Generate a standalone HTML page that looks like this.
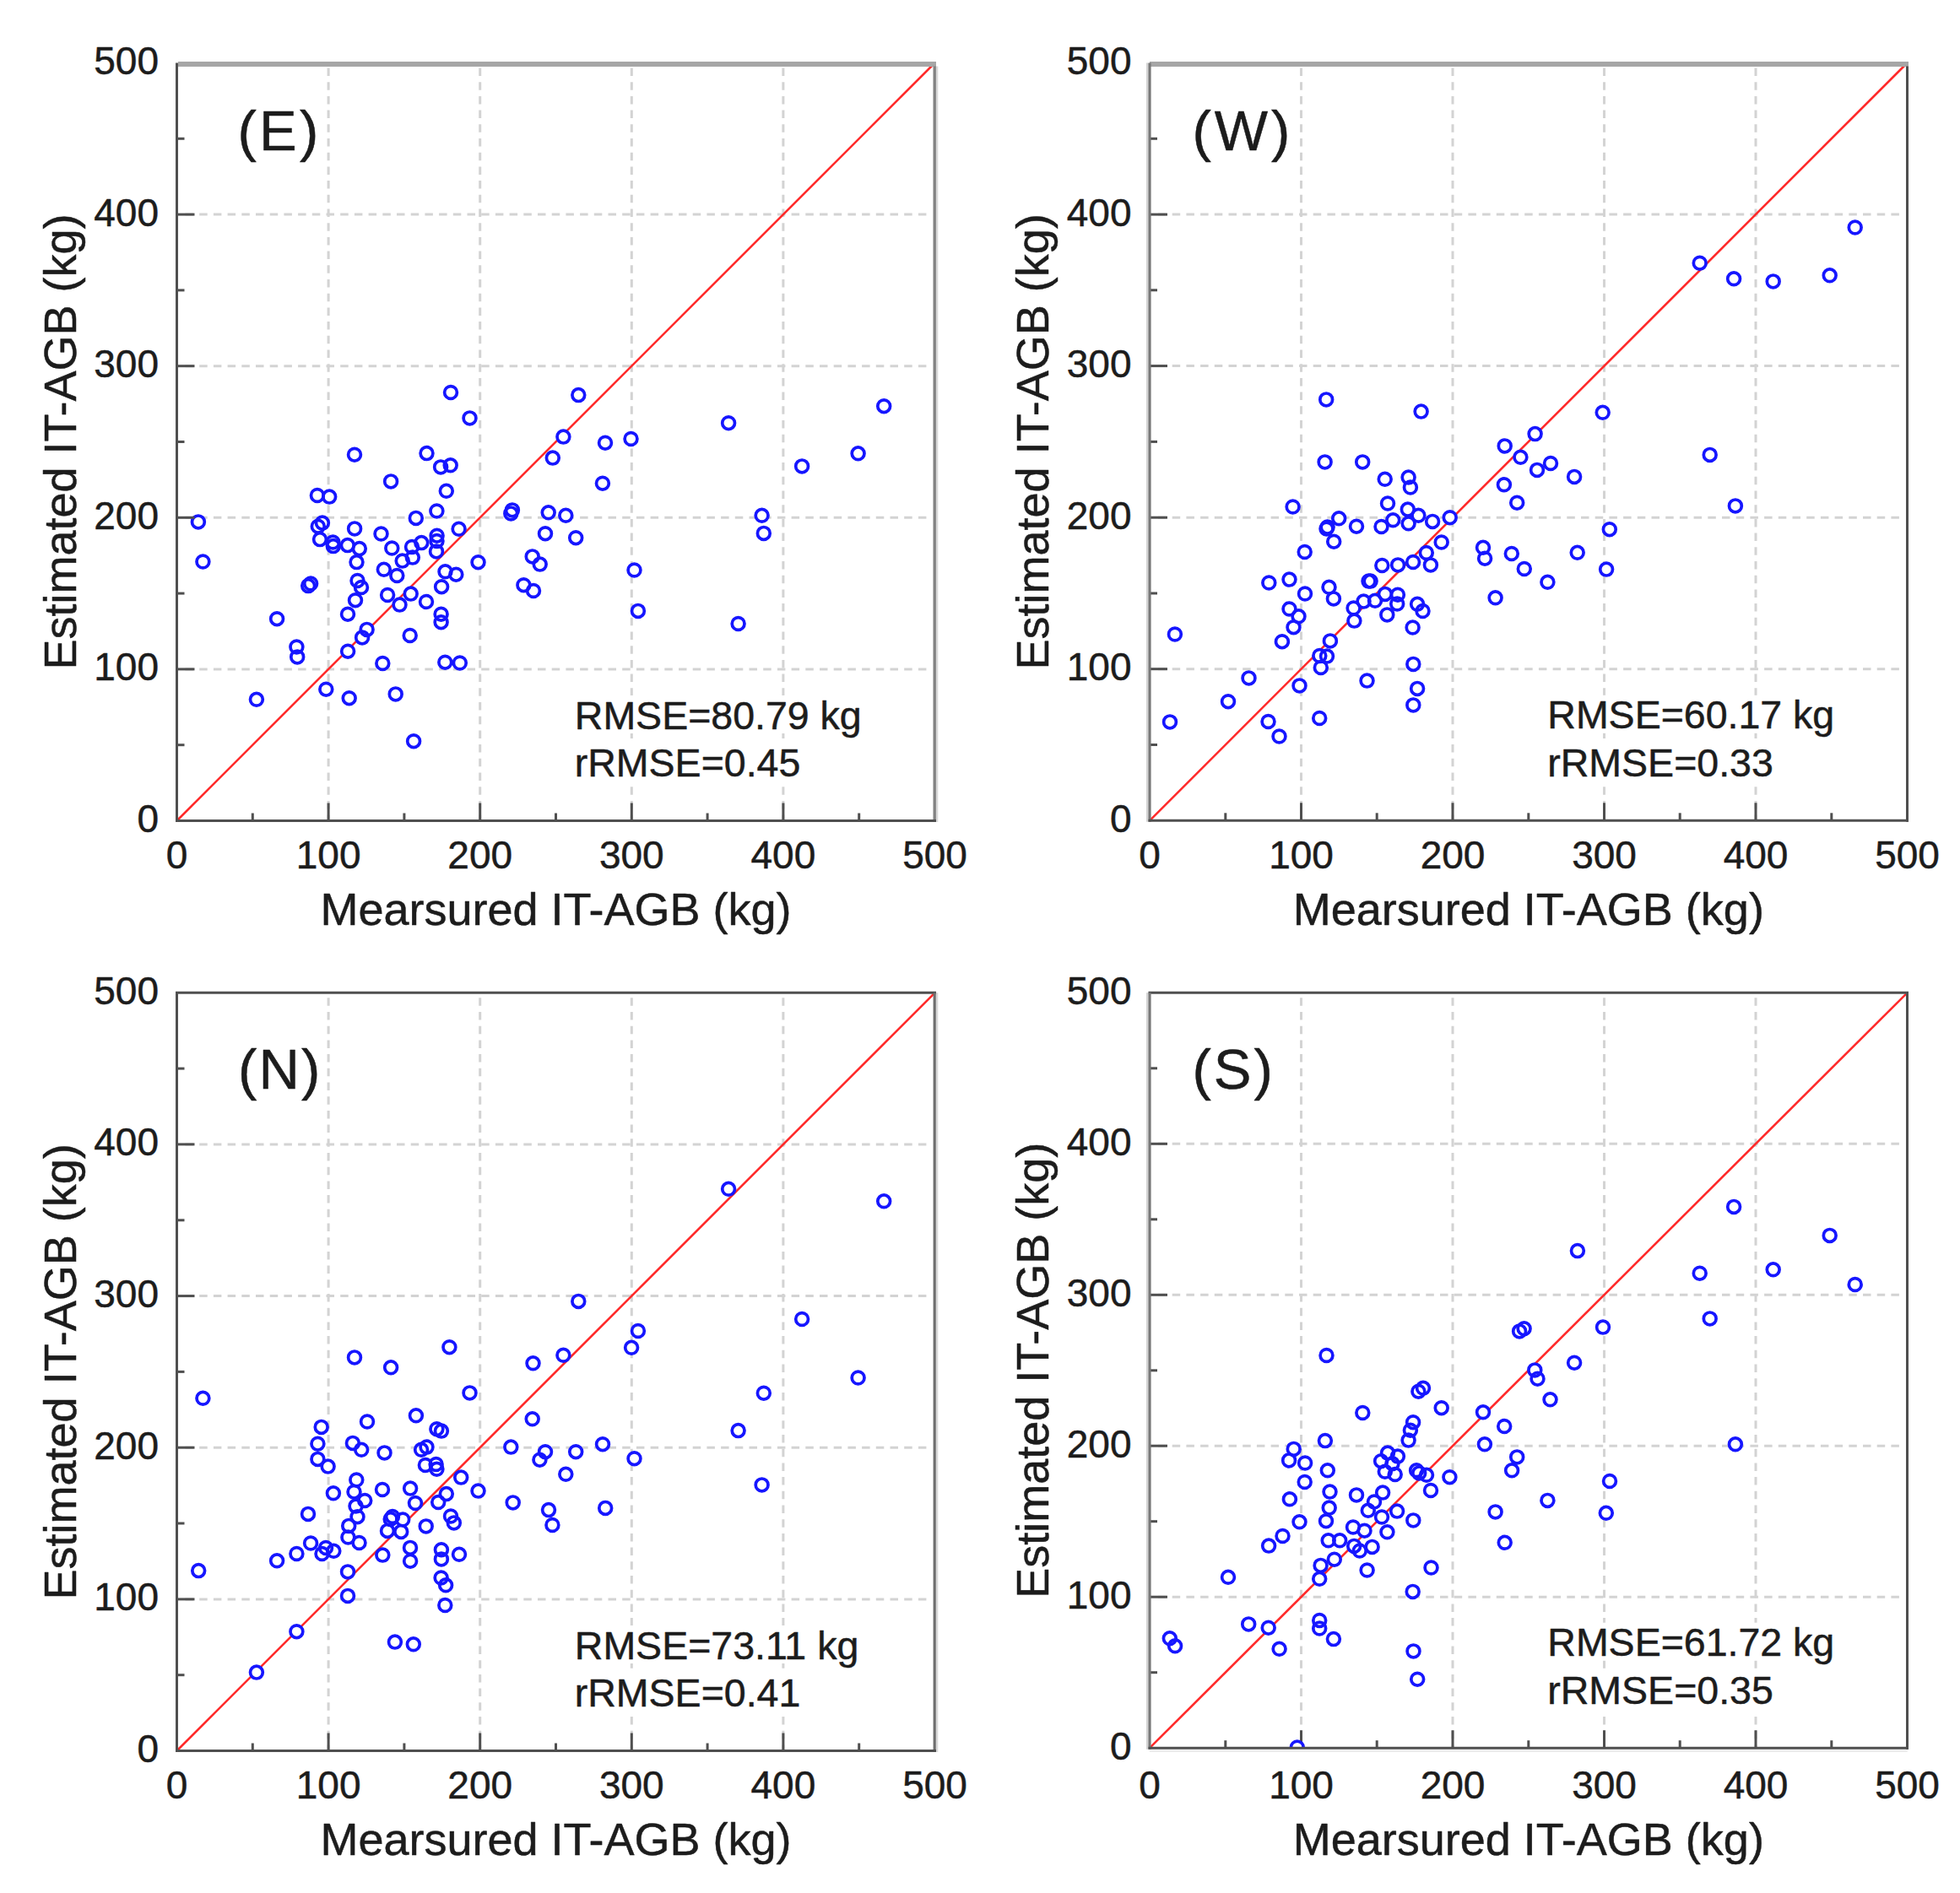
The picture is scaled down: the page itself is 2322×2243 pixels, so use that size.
<!DOCTYPE html><html><head><meta charset="utf-8"><title>IT-AGB scatter</title><style>html,body{margin:0;padding:0;background:#fff}svg{display:block}text{font-family:"Liberation Sans",Arial,sans-serif;fill:#1c1c1c;stroke:#1c1c1c;stroke-width:.5px;stroke-linejoin:round}</style></head><body>
<svg width="2322" height="2243" viewBox="0 0 2322 2243">
<rect width="2322" height="2243" fill="#fff"/>
<g><line x1="389.1" y1="80.5" x2="389.1" y2="972.5" stroke="#d3d3d3" stroke-width="3" stroke-dasharray="9.5 7.2"/><line x1="219.5" y1="792.9" x2="1101.5" y2="792.9" stroke="#d3d3d3" stroke-width="3" stroke-dasharray="9.5 7.2"/><line x1="568.7" y1="80.5" x2="568.7" y2="972.5" stroke="#d3d3d3" stroke-width="3" stroke-dasharray="9.5 7.2"/><line x1="219.5" y1="613.3" x2="1101.5" y2="613.3" stroke="#d3d3d3" stroke-width="3" stroke-dasharray="9.5 7.2"/><line x1="748.3" y1="80.5" x2="748.3" y2="972.5" stroke="#d3d3d3" stroke-width="3" stroke-dasharray="9.5 7.2"/><line x1="219.5" y1="433.7" x2="1101.5" y2="433.7" stroke="#d3d3d3" stroke-width="3" stroke-dasharray="9.5 7.2"/><line x1="927.9" y1="80.5" x2="927.9" y2="972.5" stroke="#d3d3d3" stroke-width="3" stroke-dasharray="9.5 7.2"/><line x1="219.5" y1="254.1" x2="1101.5" y2="254.1" stroke="#d3d3d3" stroke-width="3" stroke-dasharray="9.5 7.2"/><line x1="209.5" y1="972.5" x2="1107.5" y2="74.5" stroke="#ff2a2a" stroke-width="2.6"/><g fill="#fff" stroke="none"><circle cx="234.9" cy="618.4" r="7.4"/><circle cx="240.4" cy="665.5" r="7.4"/><circle cx="420.0" cy="538.7" r="7.4"/><circle cx="463.1" cy="570.4" r="7.4"/><circle cx="375.9" cy="587.0" r="7.4"/><circle cx="390.2" cy="588.6" r="7.4"/><circle cx="492.8" cy="613.9" r="7.4"/><circle cx="376.8" cy="623.7" r="7.4"/><circle cx="381.9" cy="619.6" r="7.4"/><circle cx="420.1" cy="626.4" r="7.4"/><circle cx="451.5" cy="632.5" r="7.4"/><circle cx="379.0" cy="639.1" r="7.4"/><circle cx="394.4" cy="642.5" r="7.4"/><circle cx="394.8" cy="647.1" r="7.4"/><circle cx="411.8" cy="646.1" r="7.4"/><circle cx="425.8" cy="650.1" r="7.4"/><circle cx="464.3" cy="649.5" r="7.4"/><circle cx="422.5" cy="666.1" r="7.4"/><circle cx="476.7" cy="664.6" r="7.4"/><circle cx="454.8" cy="674.8" r="7.4"/><circle cx="470.3" cy="682.0" r="7.4"/><circle cx="365.2" cy="694.1" r="7.4"/><circle cx="368.1" cy="691.5" r="7.4"/><circle cx="423.5" cy="688.0" r="7.4"/><circle cx="428.0" cy="696.0" r="7.4"/><circle cx="421.0" cy="711.2" r="7.4"/><circle cx="412.0" cy="727.7" r="7.4"/><circle cx="328.1" cy="733.2" r="7.4"/><circle cx="351.4" cy="766.5" r="7.4"/><circle cx="352.2" cy="778.4" r="7.4"/><circle cx="303.9" cy="828.8" r="7.4"/><circle cx="386.3" cy="816.7" r="7.4"/><circle cx="413.7" cy="827.2" r="7.4"/><circle cx="468.7" cy="822.4" r="7.4"/><circle cx="490.1" cy="878.2" r="7.4"/><circle cx="453.3" cy="786.0" r="7.4"/><circle cx="527.3" cy="784.7" r="7.4"/><circle cx="544.8" cy="785.5" r="7.4"/><circle cx="485.7" cy="753.0" r="7.4"/><circle cx="412.1" cy="771.7" r="7.4"/><circle cx="429.1" cy="755.4" r="7.4"/><circle cx="434.6" cy="745.9" r="7.4"/><circle cx="459.1" cy="705.0" r="7.4"/><circle cx="473.5" cy="716.6" r="7.4"/><circle cx="486.7" cy="703.6" r="7.4"/><circle cx="505.0" cy="713.0" r="7.4"/><circle cx="522.6" cy="727.7" r="7.4"/><circle cx="522.6" cy="737.2" r="7.4"/><circle cx="523.1" cy="695.2" r="7.4"/><circle cx="527.5" cy="677.3" r="7.4"/><circle cx="540.3" cy="680.7" r="7.4"/><circle cx="517.4" cy="605.5" r="7.4"/><circle cx="543.6" cy="626.8" r="7.4"/><circle cx="517.6" cy="634.7" r="7.4"/><circle cx="517.0" cy="653.4" r="7.4"/><circle cx="499.3" cy="643.1" r="7.4"/><circle cx="488.0" cy="648.0" r="7.4"/><circle cx="488.8" cy="660.6" r="7.4"/><circle cx="517.5" cy="641.0" r="7.4"/><circle cx="534.0" cy="465.0" r="7.4"/><circle cx="556.5" cy="495.4" r="7.4"/><circle cx="685.3" cy="468.1" r="7.4"/><circle cx="667.4" cy="517.6" r="7.4"/><circle cx="654.8" cy="542.6" r="7.4"/><circle cx="717.0" cy="524.7" r="7.4"/><circle cx="747.5" cy="520.0" r="7.4"/><circle cx="505.5" cy="537.1" r="7.4"/><circle cx="522.1" cy="553.4" r="7.4"/><circle cx="533.7" cy="551.3" r="7.4"/><circle cx="528.8" cy="581.8" r="7.4"/><circle cx="713.9" cy="572.7" r="7.4"/><circle cx="606.9" cy="604.4" r="7.4"/><circle cx="605.3" cy="608.4" r="7.4"/><circle cx="649.7" cy="607.3" r="7.4"/><circle cx="670.3" cy="610.8" r="7.4"/><circle cx="646.0" cy="632.2" r="7.4"/><circle cx="682.2" cy="637.2" r="7.4"/><circle cx="566.5" cy="666.2" r="7.4"/><circle cx="630.7" cy="659.4" r="7.4"/><circle cx="639.7" cy="668.6" r="7.4"/><circle cx="620.4" cy="693.2" r="7.4"/><circle cx="632.0" cy="700.0" r="7.4"/><circle cx="751.5" cy="675.5" r="7.4"/><circle cx="863.1" cy="501.2" r="7.4"/><circle cx="1047.2" cy="481.2" r="7.4"/><circle cx="1016.6" cy="537.3" r="7.4"/><circle cx="950.1" cy="552.4" r="7.4"/><circle cx="902.6" cy="610.8" r="7.4"/><circle cx="904.8" cy="631.9" r="7.4"/><circle cx="755.9" cy="723.9" r="7.4"/><circle cx="874.6" cy="739.0" r="7.4"/></g><g fill="none" stroke="#1616ff" stroke-width="3.7"><circle cx="234.9" cy="618.4" r="7.4"/><circle cx="240.4" cy="665.5" r="7.4"/><circle cx="420.0" cy="538.7" r="7.4"/><circle cx="463.1" cy="570.4" r="7.4"/><circle cx="375.9" cy="587.0" r="7.4"/><circle cx="390.2" cy="588.6" r="7.4"/><circle cx="492.8" cy="613.9" r="7.4"/><circle cx="376.8" cy="623.7" r="7.4"/><circle cx="381.9" cy="619.6" r="7.4"/><circle cx="420.1" cy="626.4" r="7.4"/><circle cx="451.5" cy="632.5" r="7.4"/><circle cx="379.0" cy="639.1" r="7.4"/><circle cx="394.4" cy="642.5" r="7.4"/><circle cx="394.8" cy="647.1" r="7.4"/><circle cx="411.8" cy="646.1" r="7.4"/><circle cx="425.8" cy="650.1" r="7.4"/><circle cx="464.3" cy="649.5" r="7.4"/><circle cx="422.5" cy="666.1" r="7.4"/><circle cx="476.7" cy="664.6" r="7.4"/><circle cx="454.8" cy="674.8" r="7.4"/><circle cx="470.3" cy="682.0" r="7.4"/><circle cx="365.2" cy="694.1" r="7.4"/><circle cx="368.1" cy="691.5" r="7.4"/><circle cx="423.5" cy="688.0" r="7.4"/><circle cx="428.0" cy="696.0" r="7.4"/><circle cx="421.0" cy="711.2" r="7.4"/><circle cx="412.0" cy="727.7" r="7.4"/><circle cx="328.1" cy="733.2" r="7.4"/><circle cx="351.4" cy="766.5" r="7.4"/><circle cx="352.2" cy="778.4" r="7.4"/><circle cx="303.9" cy="828.8" r="7.4"/><circle cx="386.3" cy="816.7" r="7.4"/><circle cx="413.7" cy="827.2" r="7.4"/><circle cx="468.7" cy="822.4" r="7.4"/><circle cx="490.1" cy="878.2" r="7.4"/><circle cx="453.3" cy="786.0" r="7.4"/><circle cx="527.3" cy="784.7" r="7.4"/><circle cx="544.8" cy="785.5" r="7.4"/><circle cx="485.7" cy="753.0" r="7.4"/><circle cx="412.1" cy="771.7" r="7.4"/><circle cx="429.1" cy="755.4" r="7.4"/><circle cx="434.6" cy="745.9" r="7.4"/><circle cx="459.1" cy="705.0" r="7.4"/><circle cx="473.5" cy="716.6" r="7.4"/><circle cx="486.7" cy="703.6" r="7.4"/><circle cx="505.0" cy="713.0" r="7.4"/><circle cx="522.6" cy="727.7" r="7.4"/><circle cx="522.6" cy="737.2" r="7.4"/><circle cx="523.1" cy="695.2" r="7.4"/><circle cx="527.5" cy="677.3" r="7.4"/><circle cx="540.3" cy="680.7" r="7.4"/><circle cx="517.4" cy="605.5" r="7.4"/><circle cx="543.6" cy="626.8" r="7.4"/><circle cx="517.6" cy="634.7" r="7.4"/><circle cx="517.0" cy="653.4" r="7.4"/><circle cx="499.3" cy="643.1" r="7.4"/><circle cx="488.0" cy="648.0" r="7.4"/><circle cx="488.8" cy="660.6" r="7.4"/><circle cx="517.5" cy="641.0" r="7.4"/><circle cx="534.0" cy="465.0" r="7.4"/><circle cx="556.5" cy="495.4" r="7.4"/><circle cx="685.3" cy="468.1" r="7.4"/><circle cx="667.4" cy="517.6" r="7.4"/><circle cx="654.8" cy="542.6" r="7.4"/><circle cx="717.0" cy="524.7" r="7.4"/><circle cx="747.5" cy="520.0" r="7.4"/><circle cx="505.5" cy="537.1" r="7.4"/><circle cx="522.1" cy="553.4" r="7.4"/><circle cx="533.7" cy="551.3" r="7.4"/><circle cx="528.8" cy="581.8" r="7.4"/><circle cx="713.9" cy="572.7" r="7.4"/><circle cx="606.9" cy="604.4" r="7.4"/><circle cx="605.3" cy="608.4" r="7.4"/><circle cx="649.7" cy="607.3" r="7.4"/><circle cx="670.3" cy="610.8" r="7.4"/><circle cx="646.0" cy="632.2" r="7.4"/><circle cx="682.2" cy="637.2" r="7.4"/><circle cx="566.5" cy="666.2" r="7.4"/><circle cx="630.7" cy="659.4" r="7.4"/><circle cx="639.7" cy="668.6" r="7.4"/><circle cx="620.4" cy="693.2" r="7.4"/><circle cx="632.0" cy="700.0" r="7.4"/><circle cx="751.5" cy="675.5" r="7.4"/><circle cx="863.1" cy="501.2" r="7.4"/><circle cx="1047.2" cy="481.2" r="7.4"/><circle cx="1016.6" cy="537.3" r="7.4"/><circle cx="950.1" cy="552.4" r="7.4"/><circle cx="902.6" cy="610.8" r="7.4"/><circle cx="904.8" cy="631.9" r="7.4"/><circle cx="755.9" cy="723.9" r="7.4"/><circle cx="874.6" cy="739.0" r="7.4"/></g><line x1="299.3" y1="972.5" x2="299.3" y2="963.5" stroke="#4f4f4f" stroke-width="3"/><line x1="209.5" y1="882.7" x2="218.5" y2="882.7" stroke="#4f4f4f" stroke-width="3"/><line x1="389.1" y1="972.5" x2="389.1" y2="951.5" stroke="#4f4f4f" stroke-width="3"/><line x1="209.5" y1="792.9" x2="230.5" y2="792.9" stroke="#4f4f4f" stroke-width="3"/><line x1="478.9" y1="972.5" x2="478.9" y2="963.5" stroke="#4f4f4f" stroke-width="3"/><line x1="209.5" y1="703.1" x2="218.5" y2="703.1" stroke="#4f4f4f" stroke-width="3"/><line x1="568.7" y1="972.5" x2="568.7" y2="951.5" stroke="#4f4f4f" stroke-width="3"/><line x1="209.5" y1="613.3" x2="230.5" y2="613.3" stroke="#4f4f4f" stroke-width="3"/><line x1="658.5" y1="972.5" x2="658.5" y2="963.5" stroke="#4f4f4f" stroke-width="3"/><line x1="209.5" y1="523.5" x2="218.5" y2="523.5" stroke="#4f4f4f" stroke-width="3"/><line x1="748.3" y1="972.5" x2="748.3" y2="951.5" stroke="#4f4f4f" stroke-width="3"/><line x1="209.5" y1="433.7" x2="230.5" y2="433.7" stroke="#4f4f4f" stroke-width="3"/><line x1="838.1" y1="972.5" x2="838.1" y2="963.5" stroke="#4f4f4f" stroke-width="3"/><line x1="209.5" y1="343.9" x2="218.5" y2="343.9" stroke="#4f4f4f" stroke-width="3"/><line x1="927.9" y1="972.5" x2="927.9" y2="951.5" stroke="#4f4f4f" stroke-width="3"/><line x1="209.5" y1="254.1" x2="230.5" y2="254.1" stroke="#4f4f4f" stroke-width="3"/><line x1="1017.7" y1="972.5" x2="1017.7" y2="963.5" stroke="#4f4f4f" stroke-width="3"/><line x1="209.5" y1="164.3" x2="218.5" y2="164.3" stroke="#4f4f4f" stroke-width="3"/><line x1="211.0" y1="76.0" x2="1109.0" y2="76.0" stroke="#a6a6a6" stroke-width="6"/><line x1="1110.1" y1="78.5" x2="1110.1" y2="974.0" stroke="#d8d8d8" stroke-width="2.4"/><line x1="1107.2" y1="78.5" x2="1107.2" y2="974.0" stroke="#828282" stroke-width="3.4"/><line x1="209.5" y1="74.5" x2="209.5" y2="974.0" stroke="#4f4f4f" stroke-width="3"/><line x1="208.0" y1="972.5" x2="1109.0" y2="972.5" stroke="#4f4f4f" stroke-width="3"/><text x="209.5" y="1028.8" font-size="46" text-anchor="middle">0</text><text x="188.0" y="986.0" font-size="46" text-anchor="end">0</text><text x="389.1" y="1028.8" font-size="46" text-anchor="middle">100</text><text x="188.0" y="806.4" font-size="46" text-anchor="end">100</text><text x="568.7" y="1028.8" font-size="46" text-anchor="middle">200</text><text x="188.0" y="626.8" font-size="46" text-anchor="end">200</text><text x="748.3" y="1028.8" font-size="46" text-anchor="middle">300</text><text x="188.0" y="447.2" font-size="46" text-anchor="end">300</text><text x="927.9" y="1028.8" font-size="46" text-anchor="middle">400</text><text x="188.0" y="267.6" font-size="46" text-anchor="end">400</text><text x="1107.5" y="1028.8" font-size="46" text-anchor="middle">500</text><text x="188.0" y="88.0" font-size="46" text-anchor="end">500</text><text x="658.5" y="1095.8" font-size="54" text-anchor="middle">Mearsured IT-AGB (kg)</text><text transform="translate(89.5 523.5) rotate(-90)" font-size="54" text-anchor="middle">Estimated IT-AGB (kg)</text><text x="281.5" y="178.0" font-size="67" letter-spacing="3.2" fill="#000">(E)</text><rect x="681.5" y="824.0" width="336" height="45" fill="#fff"/><rect x="681.5" y="879.0" width="266" height="51" fill="#fff"/><text x="680.8" y="863.5" font-size="46.5">RMSE=80.79 kg</text><text x="680.8" y="920.2" font-size="46.5">rRMSE=0.45</text></g>
<g><line x1="1541.5" y1="80.5" x2="1541.5" y2="972.3" stroke="#d3d3d3" stroke-width="3" stroke-dasharray="9.5 7.2"/><line x1="1372.0" y1="792.7" x2="2253.5" y2="792.7" stroke="#d3d3d3" stroke-width="3" stroke-dasharray="9.5 7.2"/><line x1="1721.0" y1="80.5" x2="1721.0" y2="972.3" stroke="#d3d3d3" stroke-width="3" stroke-dasharray="9.5 7.2"/><line x1="1372.0" y1="613.2" x2="2253.5" y2="613.2" stroke="#d3d3d3" stroke-width="3" stroke-dasharray="9.5 7.2"/><line x1="1900.5" y1="80.5" x2="1900.5" y2="972.3" stroke="#d3d3d3" stroke-width="3" stroke-dasharray="9.5 7.2"/><line x1="1372.0" y1="433.6" x2="2253.5" y2="433.6" stroke="#d3d3d3" stroke-width="3" stroke-dasharray="9.5 7.2"/><line x1="2080.0" y1="80.5" x2="2080.0" y2="972.3" stroke="#d3d3d3" stroke-width="3" stroke-dasharray="9.5 7.2"/><line x1="1372.0" y1="254.1" x2="2253.5" y2="254.1" stroke="#d3d3d3" stroke-width="3" stroke-dasharray="9.5 7.2"/><line x1="1362.0" y1="972.3" x2="2259.5" y2="74.5" stroke="#ff2a2a" stroke-width="2.6"/><g fill="#fff" stroke="none"><circle cx="1571.2" cy="473.4" r="7.4"/><circle cx="1569.6" cy="547.4" r="7.4"/><circle cx="1614.2" cy="547.4" r="7.4"/><circle cx="1640.7" cy="567.8" r="7.4"/><circle cx="1531.6" cy="600.5" r="7.4"/><circle cx="1644.0" cy="596.5" r="7.4"/><circle cx="1586.2" cy="614.3" r="7.4"/><circle cx="1572.6" cy="624.6" r="7.4"/><circle cx="1571.5" cy="626.5" r="7.4"/><circle cx="1607.0" cy="623.7" r="7.4"/><circle cx="1636.5" cy="624.0" r="7.4"/><circle cx="1580.2" cy="641.7" r="7.4"/><circle cx="1545.7" cy="654.0" r="7.4"/><circle cx="1637.3" cy="670.0" r="7.4"/><circle cx="1623.6" cy="688.6" r="7.4"/><circle cx="1621.5" cy="688.6" r="7.4"/><circle cx="1503.3" cy="690.5" r="7.4"/><circle cx="1527.5" cy="686.6" r="7.4"/><circle cx="1546.0" cy="703.5" r="7.4"/><circle cx="1574.5" cy="695.8" r="7.4"/><circle cx="1683.6" cy="487.6" r="7.4"/><circle cx="1898.7" cy="488.8" r="7.4"/><circle cx="1818.6" cy="514.1" r="7.4"/><circle cx="1782.7" cy="528.4" r="7.4"/><circle cx="1801.4" cy="541.8" r="7.4"/><circle cx="1837.0" cy="549.0" r="7.4"/><circle cx="1821.0" cy="556.9" r="7.4"/><circle cx="1865.1" cy="564.9" r="7.4"/><circle cx="1781.9" cy="574.3" r="7.4"/><circle cx="1797.2" cy="595.7" r="7.4"/><circle cx="1668.6" cy="565.6" r="7.4"/><circle cx="1670.9" cy="577.5" r="7.4"/><circle cx="1667.8" cy="603.6" r="7.4"/><circle cx="1680.4" cy="610.8" r="7.4"/><circle cx="1650.3" cy="616.3" r="7.4"/><circle cx="1668.6" cy="620.3" r="7.4"/><circle cx="1697.1" cy="617.9" r="7.4"/><circle cx="1717.7" cy="613.2" r="7.4"/><circle cx="1707.7" cy="642.5" r="7.4"/><circle cx="1689.8" cy="655.0" r="7.4"/><circle cx="1694.9" cy="669.4" r="7.4"/><circle cx="1674.1" cy="666.0" r="7.4"/><circle cx="1656.1" cy="669.4" r="7.4"/><circle cx="1757.0" cy="648.8" r="7.4"/><circle cx="1759.1" cy="661.7" r="7.4"/><circle cx="1790.8" cy="656.0" r="7.4"/><circle cx="1805.8" cy="674.0" r="7.4"/><circle cx="1868.7" cy="654.8" r="7.4"/><circle cx="1833.4" cy="689.8" r="7.4"/><circle cx="1906.8" cy="627.2" r="7.4"/><circle cx="1903.1" cy="674.6" r="7.4"/><circle cx="1579.9" cy="709.4" r="7.4"/><circle cx="1527.5" cy="721.5" r="7.4"/><circle cx="1538.5" cy="730.3" r="7.4"/><circle cx="1532.5" cy="743.2" r="7.4"/><circle cx="1518.9" cy="760.2" r="7.4"/><circle cx="1603.6" cy="720.5" r="7.4"/><circle cx="1615.5" cy="712.6" r="7.4"/><circle cx="1629.0" cy="711.8" r="7.4"/><circle cx="1604.4" cy="735.6" r="7.4"/><circle cx="1640.9" cy="703.9" r="7.4"/><circle cx="1655.9" cy="704.7" r="7.4"/><circle cx="1655.2" cy="715.5" r="7.4"/><circle cx="1643.3" cy="728.4" r="7.4"/><circle cx="1679.1" cy="715.8" r="7.4"/><circle cx="1685.5" cy="724.0" r="7.4"/><circle cx="1673.6" cy="743.5" r="7.4"/><circle cx="1575.9" cy="759.4" r="7.4"/><circle cx="1572.0" cy="777.6" r="7.4"/><circle cx="1563.3" cy="777.0" r="7.4"/><circle cx="1564.8" cy="791.0" r="7.4"/><circle cx="1479.5" cy="803.4" r="7.4"/><circle cx="1539.5" cy="812.4" r="7.4"/><circle cx="1455.0" cy="831.2" r="7.4"/><circle cx="1502.5" cy="855.0" r="7.4"/><circle cx="1515.5" cy="872.5" r="7.4"/><circle cx="1563.2" cy="851.0" r="7.4"/><circle cx="1619.5" cy="806.6" r="7.4"/><circle cx="1674.3" cy="786.9" r="7.4"/><circle cx="1679.1" cy="815.9" r="7.4"/><circle cx="1674.3" cy="835.4" r="7.4"/><circle cx="1771.6" cy="708.3" r="7.4"/><circle cx="2013.7" cy="311.7" r="7.4"/><circle cx="2054.1" cy="330.3" r="7.4"/><circle cx="2100.7" cy="333.4" r="7.4"/><circle cx="2167.7" cy="326.3" r="7.4"/><circle cx="2197.7" cy="269.5" r="7.4"/><circle cx="2025.7" cy="538.9" r="7.4"/><circle cx="2055.9" cy="599.4" r="7.4"/><circle cx="1391.9" cy="751.5" r="7.4"/><circle cx="1386.0" cy="855.4" r="7.4"/></g><g fill="none" stroke="#1616ff" stroke-width="3.7"><circle cx="1571.2" cy="473.4" r="7.4"/><circle cx="1569.6" cy="547.4" r="7.4"/><circle cx="1614.2" cy="547.4" r="7.4"/><circle cx="1640.7" cy="567.8" r="7.4"/><circle cx="1531.6" cy="600.5" r="7.4"/><circle cx="1644.0" cy="596.5" r="7.4"/><circle cx="1586.2" cy="614.3" r="7.4"/><circle cx="1572.6" cy="624.6" r="7.4"/><circle cx="1571.5" cy="626.5" r="7.4"/><circle cx="1607.0" cy="623.7" r="7.4"/><circle cx="1636.5" cy="624.0" r="7.4"/><circle cx="1580.2" cy="641.7" r="7.4"/><circle cx="1545.7" cy="654.0" r="7.4"/><circle cx="1637.3" cy="670.0" r="7.4"/><circle cx="1623.6" cy="688.6" r="7.4"/><circle cx="1621.5" cy="688.6" r="7.4"/><circle cx="1503.3" cy="690.5" r="7.4"/><circle cx="1527.5" cy="686.6" r="7.4"/><circle cx="1546.0" cy="703.5" r="7.4"/><circle cx="1574.5" cy="695.8" r="7.4"/><circle cx="1683.6" cy="487.6" r="7.4"/><circle cx="1898.7" cy="488.8" r="7.4"/><circle cx="1818.6" cy="514.1" r="7.4"/><circle cx="1782.7" cy="528.4" r="7.4"/><circle cx="1801.4" cy="541.8" r="7.4"/><circle cx="1837.0" cy="549.0" r="7.4"/><circle cx="1821.0" cy="556.9" r="7.4"/><circle cx="1865.1" cy="564.9" r="7.4"/><circle cx="1781.9" cy="574.3" r="7.4"/><circle cx="1797.2" cy="595.7" r="7.4"/><circle cx="1668.6" cy="565.6" r="7.4"/><circle cx="1670.9" cy="577.5" r="7.4"/><circle cx="1667.8" cy="603.6" r="7.4"/><circle cx="1680.4" cy="610.8" r="7.4"/><circle cx="1650.3" cy="616.3" r="7.4"/><circle cx="1668.6" cy="620.3" r="7.4"/><circle cx="1697.1" cy="617.9" r="7.4"/><circle cx="1717.7" cy="613.2" r="7.4"/><circle cx="1707.7" cy="642.5" r="7.4"/><circle cx="1689.8" cy="655.0" r="7.4"/><circle cx="1694.9" cy="669.4" r="7.4"/><circle cx="1674.1" cy="666.0" r="7.4"/><circle cx="1656.1" cy="669.4" r="7.4"/><circle cx="1757.0" cy="648.8" r="7.4"/><circle cx="1759.1" cy="661.7" r="7.4"/><circle cx="1790.8" cy="656.0" r="7.4"/><circle cx="1805.8" cy="674.0" r="7.4"/><circle cx="1868.7" cy="654.8" r="7.4"/><circle cx="1833.4" cy="689.8" r="7.4"/><circle cx="1906.8" cy="627.2" r="7.4"/><circle cx="1903.1" cy="674.6" r="7.4"/><circle cx="1579.9" cy="709.4" r="7.4"/><circle cx="1527.5" cy="721.5" r="7.4"/><circle cx="1538.5" cy="730.3" r="7.4"/><circle cx="1532.5" cy="743.2" r="7.4"/><circle cx="1518.9" cy="760.2" r="7.4"/><circle cx="1603.6" cy="720.5" r="7.4"/><circle cx="1615.5" cy="712.6" r="7.4"/><circle cx="1629.0" cy="711.8" r="7.4"/><circle cx="1604.4" cy="735.6" r="7.4"/><circle cx="1640.9" cy="703.9" r="7.4"/><circle cx="1655.9" cy="704.7" r="7.4"/><circle cx="1655.2" cy="715.5" r="7.4"/><circle cx="1643.3" cy="728.4" r="7.4"/><circle cx="1679.1" cy="715.8" r="7.4"/><circle cx="1685.5" cy="724.0" r="7.4"/><circle cx="1673.6" cy="743.5" r="7.4"/><circle cx="1575.9" cy="759.4" r="7.4"/><circle cx="1572.0" cy="777.6" r="7.4"/><circle cx="1563.3" cy="777.0" r="7.4"/><circle cx="1564.8" cy="791.0" r="7.4"/><circle cx="1479.5" cy="803.4" r="7.4"/><circle cx="1539.5" cy="812.4" r="7.4"/><circle cx="1455.0" cy="831.2" r="7.4"/><circle cx="1502.5" cy="855.0" r="7.4"/><circle cx="1515.5" cy="872.5" r="7.4"/><circle cx="1563.2" cy="851.0" r="7.4"/><circle cx="1619.5" cy="806.6" r="7.4"/><circle cx="1674.3" cy="786.9" r="7.4"/><circle cx="1679.1" cy="815.9" r="7.4"/><circle cx="1674.3" cy="835.4" r="7.4"/><circle cx="1771.6" cy="708.3" r="7.4"/><circle cx="2013.7" cy="311.7" r="7.4"/><circle cx="2054.1" cy="330.3" r="7.4"/><circle cx="2100.7" cy="333.4" r="7.4"/><circle cx="2167.7" cy="326.3" r="7.4"/><circle cx="2197.7" cy="269.5" r="7.4"/><circle cx="2025.7" cy="538.9" r="7.4"/><circle cx="2055.9" cy="599.4" r="7.4"/><circle cx="1391.9" cy="751.5" r="7.4"/><circle cx="1386.0" cy="855.4" r="7.4"/></g><line x1="1451.8" y1="972.3" x2="1451.8" y2="963.3" stroke="#4f4f4f" stroke-width="3"/><line x1="1362.0" y1="882.5" x2="1371.0" y2="882.5" stroke="#4f4f4f" stroke-width="3"/><line x1="1541.5" y1="972.3" x2="1541.5" y2="951.3" stroke="#4f4f4f" stroke-width="3"/><line x1="1362.0" y1="792.7" x2="1383.0" y2="792.7" stroke="#4f4f4f" stroke-width="3"/><line x1="1631.2" y1="972.3" x2="1631.2" y2="963.3" stroke="#4f4f4f" stroke-width="3"/><line x1="1362.0" y1="703.0" x2="1371.0" y2="703.0" stroke="#4f4f4f" stroke-width="3"/><line x1="1721.0" y1="972.3" x2="1721.0" y2="951.3" stroke="#4f4f4f" stroke-width="3"/><line x1="1362.0" y1="613.2" x2="1383.0" y2="613.2" stroke="#4f4f4f" stroke-width="3"/><line x1="1810.8" y1="972.3" x2="1810.8" y2="963.3" stroke="#4f4f4f" stroke-width="3"/><line x1="1362.0" y1="523.4" x2="1371.0" y2="523.4" stroke="#4f4f4f" stroke-width="3"/><line x1="1900.5" y1="972.3" x2="1900.5" y2="951.3" stroke="#4f4f4f" stroke-width="3"/><line x1="1362.0" y1="433.6" x2="1383.0" y2="433.6" stroke="#4f4f4f" stroke-width="3"/><line x1="1990.2" y1="972.3" x2="1990.2" y2="963.3" stroke="#4f4f4f" stroke-width="3"/><line x1="1362.0" y1="343.8" x2="1371.0" y2="343.8" stroke="#4f4f4f" stroke-width="3"/><line x1="2080.0" y1="972.3" x2="2080.0" y2="951.3" stroke="#4f4f4f" stroke-width="3"/><line x1="1362.0" y1="254.1" x2="1383.0" y2="254.1" stroke="#4f4f4f" stroke-width="3"/><line x1="2169.8" y1="972.3" x2="2169.8" y2="963.3" stroke="#4f4f4f" stroke-width="3"/><line x1="1362.0" y1="164.3" x2="1371.0" y2="164.3" stroke="#4f4f4f" stroke-width="3"/><line x1="1362.0" y1="76.0" x2="2261.0" y2="76.0" stroke="#a6a6a6" stroke-width="6"/><line x1="2259.5" y1="78.5" x2="2259.5" y2="973.8" stroke="#4f4f4f" stroke-width="3"/><line x1="1359.2" y1="74.5" x2="1359.2" y2="973.8" stroke="#d4d4d4" stroke-width="2.6"/><line x1="1362.0" y1="74.5" x2="1362.0" y2="973.8" stroke="#787878" stroke-width="3.2"/><line x1="1360.5" y1="972.3" x2="2261.0" y2="972.3" stroke="#4f4f4f" stroke-width="3"/><text x="1362.0" y="1028.6" font-size="46" text-anchor="middle">0</text><text x="1340.5" y="985.8" font-size="46" text-anchor="end">0</text><text x="1541.5" y="1028.6" font-size="46" text-anchor="middle">100</text><text x="1340.5" y="806.2" font-size="46" text-anchor="end">100</text><text x="1721.0" y="1028.6" font-size="46" text-anchor="middle">200</text><text x="1340.5" y="626.7" font-size="46" text-anchor="end">200</text><text x="1900.5" y="1028.6" font-size="46" text-anchor="middle">300</text><text x="1340.5" y="447.1" font-size="46" text-anchor="end">300</text><text x="2080.0" y="1028.6" font-size="46" text-anchor="middle">400</text><text x="1340.5" y="267.6" font-size="46" text-anchor="end">400</text><text x="2259.5" y="1028.6" font-size="46" text-anchor="middle">500</text><text x="1340.5" y="88.0" font-size="46" text-anchor="end">500</text><text x="1810.8" y="1095.6" font-size="54" text-anchor="middle">Mearsured IT-AGB (kg)</text><text transform="translate(1242.0 523.4) rotate(-90)" font-size="54" text-anchor="middle">Estimated IT-AGB (kg)</text><text x="1412.5" y="178.0" font-size="67" letter-spacing="4" fill="#000">(W)</text><rect x="1834.0" y="823.8" width="336" height="45" fill="#fff"/><rect x="1834.0" y="878.8" width="266" height="51" fill="#fff"/><text x="1833.3" y="863.3" font-size="46.5">RMSE=60.17 kg</text><text x="1833.3" y="920.0" font-size="46.5">rRMSE=0.33</text></g>
<g><line x1="389.1" y1="1182.3" x2="389.1" y2="2074.5" stroke="#d3d3d3" stroke-width="3" stroke-dasharray="9.5 7.2"/><line x1="219.5" y1="1894.9" x2="1101.5" y2="1894.9" stroke="#d3d3d3" stroke-width="3" stroke-dasharray="9.5 7.2"/><line x1="568.7" y1="1182.3" x2="568.7" y2="2074.5" stroke="#d3d3d3" stroke-width="3" stroke-dasharray="9.5 7.2"/><line x1="219.5" y1="1715.2" x2="1101.5" y2="1715.2" stroke="#d3d3d3" stroke-width="3" stroke-dasharray="9.5 7.2"/><line x1="748.3" y1="1182.3" x2="748.3" y2="2074.5" stroke="#d3d3d3" stroke-width="3" stroke-dasharray="9.5 7.2"/><line x1="219.5" y1="1535.6" x2="1101.5" y2="1535.6" stroke="#d3d3d3" stroke-width="3" stroke-dasharray="9.5 7.2"/><line x1="927.9" y1="1182.3" x2="927.9" y2="2074.5" stroke="#d3d3d3" stroke-width="3" stroke-dasharray="9.5 7.2"/><line x1="219.5" y1="1355.9" x2="1101.5" y2="1355.9" stroke="#d3d3d3" stroke-width="3" stroke-dasharray="9.5 7.2"/><line x1="209.5" y1="2074.5" x2="1107.5" y2="1176.3" stroke="#ff2a2a" stroke-width="2.6"/><g fill="#fff" stroke="none"><circle cx="240.4" cy="1656.8" r="7.4"/><circle cx="420.0" cy="1608.4" r="7.4"/><circle cx="463.1" cy="1620.3" r="7.4"/><circle cx="492.9" cy="1677.3" r="7.4"/><circle cx="435.0" cy="1684.5" r="7.4"/><circle cx="380.7" cy="1690.9" r="7.4"/><circle cx="376.4" cy="1710.7" r="7.4"/><circle cx="417.9" cy="1709.9" r="7.4"/><circle cx="428.2" cy="1717.8" r="7.4"/><circle cx="455.5" cy="1721.4" r="7.4"/><circle cx="376.4" cy="1728.9" r="7.4"/><circle cx="388.6" cy="1737.6" r="7.4"/><circle cx="422.3" cy="1753.5" r="7.4"/><circle cx="419.5" cy="1767.7" r="7.4"/><circle cx="394.9" cy="1769.3" r="7.4"/><circle cx="453.0" cy="1765.0" r="7.4"/><circle cx="486.1" cy="1763.6" r="7.4"/><circle cx="432.2" cy="1778.0" r="7.4"/><circle cx="421.5" cy="1784.6" r="7.4"/><circle cx="492.0" cy="1781.0" r="7.4"/><circle cx="365.0" cy="1793.9" r="7.4"/><circle cx="423.5" cy="1797.2" r="7.4"/><circle cx="413.2" cy="1807.9" r="7.4"/><circle cx="412.4" cy="1821.5" r="7.4"/><circle cx="477.2" cy="1800.5" r="7.4"/><circle cx="462.7" cy="1800.0" r="7.4"/><circle cx="465.0" cy="1797.0" r="7.4"/><circle cx="459.0" cy="1813.9" r="7.4"/><circle cx="475.2" cy="1814.9" r="7.4"/><circle cx="368.1" cy="1828.5" r="7.4"/><circle cx="425.5" cy="1828.0" r="7.4"/><circle cx="685.3" cy="1541.9" r="7.4"/><circle cx="532.4" cy="1596.2" r="7.4"/><circle cx="556.5" cy="1650.4" r="7.4"/><circle cx="631.5" cy="1615.3" r="7.4"/><circle cx="667.4" cy="1605.8" r="7.4"/><circle cx="517.4" cy="1693.2" r="7.4"/><circle cx="522.9" cy="1695.6" r="7.4"/><circle cx="630.7" cy="1681.3" r="7.4"/><circle cx="499.1" cy="1717.8" r="7.4"/><circle cx="505.5" cy="1714.6" r="7.4"/><circle cx="503.9" cy="1736.0" r="7.4"/><circle cx="517.4" cy="1740.8" r="7.4"/><circle cx="516.6" cy="1735.0" r="7.4"/><circle cx="605.3" cy="1714.6" r="7.4"/><circle cx="646.0" cy="1720.2" r="7.4"/><circle cx="639.4" cy="1729.7" r="7.4"/><circle cx="682.2" cy="1720.2" r="7.4"/><circle cx="714.0" cy="1711.2" r="7.4"/><circle cx="670.3" cy="1746.8" r="7.4"/><circle cx="751.5" cy="1728.2" r="7.4"/><circle cx="546.2" cy="1750.6" r="7.4"/><circle cx="566.5" cy="1766.6" r="7.4"/><circle cx="528.8" cy="1770.1" r="7.4"/><circle cx="519.2" cy="1780.0" r="7.4"/><circle cx="607.7" cy="1780.4" r="7.4"/><circle cx="650.0" cy="1789.1" r="7.4"/><circle cx="654.4" cy="1807.0" r="7.4"/><circle cx="717.2" cy="1786.9" r="7.4"/><circle cx="534.0" cy="1796.5" r="7.4"/><circle cx="537.8" cy="1804.4" r="7.4"/><circle cx="504.7" cy="1808.4" r="7.4"/><circle cx="486.0" cy="1833.9" r="7.4"/><circle cx="522.9" cy="1836.3" r="7.4"/><circle cx="328.1" cy="1849.3" r="7.4"/><circle cx="351.4" cy="1841.0" r="7.4"/><circle cx="381.5" cy="1841.0" r="7.4"/><circle cx="386.0" cy="1834.0" r="7.4"/><circle cx="395.3" cy="1837.8" r="7.4"/><circle cx="412.0" cy="1862.4" r="7.4"/><circle cx="412.0" cy="1890.9" r="7.4"/><circle cx="453.3" cy="1842.6" r="7.4"/><circle cx="486.1" cy="1849.7" r="7.4"/><circle cx="522.9" cy="1847.4" r="7.4"/><circle cx="544.0" cy="1841.8" r="7.4"/><circle cx="522.6" cy="1869.5" r="7.4"/><circle cx="528.1" cy="1878.3" r="7.4"/><circle cx="527.3" cy="1902.0" r="7.4"/><circle cx="467.9" cy="1945.6" r="7.4"/><circle cx="489.8" cy="1948.3" r="7.4"/><circle cx="351.4" cy="1933.2" r="7.4"/><circle cx="303.9" cy="1981.6" r="7.4"/><circle cx="235.2" cy="1861.1" r="7.4"/><circle cx="863.1" cy="1408.8" r="7.4"/><circle cx="1047.2" cy="1423.3" r="7.4"/><circle cx="950.1" cy="1563.0" r="7.4"/><circle cx="755.9" cy="1577.0" r="7.4"/><circle cx="748.1" cy="1596.8" r="7.4"/><circle cx="1016.6" cy="1632.5" r="7.4"/><circle cx="904.8" cy="1650.7" r="7.4"/><circle cx="874.6" cy="1695.1" r="7.4"/><circle cx="902.6" cy="1759.4" r="7.4"/></g><g fill="none" stroke="#1616ff" stroke-width="3.7"><circle cx="240.4" cy="1656.8" r="7.4"/><circle cx="420.0" cy="1608.4" r="7.4"/><circle cx="463.1" cy="1620.3" r="7.4"/><circle cx="492.9" cy="1677.3" r="7.4"/><circle cx="435.0" cy="1684.5" r="7.4"/><circle cx="380.7" cy="1690.9" r="7.4"/><circle cx="376.4" cy="1710.7" r="7.4"/><circle cx="417.9" cy="1709.9" r="7.4"/><circle cx="428.2" cy="1717.8" r="7.4"/><circle cx="455.5" cy="1721.4" r="7.4"/><circle cx="376.4" cy="1728.9" r="7.4"/><circle cx="388.6" cy="1737.6" r="7.4"/><circle cx="422.3" cy="1753.5" r="7.4"/><circle cx="419.5" cy="1767.7" r="7.4"/><circle cx="394.9" cy="1769.3" r="7.4"/><circle cx="453.0" cy="1765.0" r="7.4"/><circle cx="486.1" cy="1763.6" r="7.4"/><circle cx="432.2" cy="1778.0" r="7.4"/><circle cx="421.5" cy="1784.6" r="7.4"/><circle cx="492.0" cy="1781.0" r="7.4"/><circle cx="365.0" cy="1793.9" r="7.4"/><circle cx="423.5" cy="1797.2" r="7.4"/><circle cx="413.2" cy="1807.9" r="7.4"/><circle cx="412.4" cy="1821.5" r="7.4"/><circle cx="477.2" cy="1800.5" r="7.4"/><circle cx="462.7" cy="1800.0" r="7.4"/><circle cx="465.0" cy="1797.0" r="7.4"/><circle cx="459.0" cy="1813.9" r="7.4"/><circle cx="475.2" cy="1814.9" r="7.4"/><circle cx="368.1" cy="1828.5" r="7.4"/><circle cx="425.5" cy="1828.0" r="7.4"/><circle cx="685.3" cy="1541.9" r="7.4"/><circle cx="532.4" cy="1596.2" r="7.4"/><circle cx="556.5" cy="1650.4" r="7.4"/><circle cx="631.5" cy="1615.3" r="7.4"/><circle cx="667.4" cy="1605.8" r="7.4"/><circle cx="517.4" cy="1693.2" r="7.4"/><circle cx="522.9" cy="1695.6" r="7.4"/><circle cx="630.7" cy="1681.3" r="7.4"/><circle cx="499.1" cy="1717.8" r="7.4"/><circle cx="505.5" cy="1714.6" r="7.4"/><circle cx="503.9" cy="1736.0" r="7.4"/><circle cx="517.4" cy="1740.8" r="7.4"/><circle cx="516.6" cy="1735.0" r="7.4"/><circle cx="605.3" cy="1714.6" r="7.4"/><circle cx="646.0" cy="1720.2" r="7.4"/><circle cx="639.4" cy="1729.7" r="7.4"/><circle cx="682.2" cy="1720.2" r="7.4"/><circle cx="714.0" cy="1711.2" r="7.4"/><circle cx="670.3" cy="1746.8" r="7.4"/><circle cx="751.5" cy="1728.2" r="7.4"/><circle cx="546.2" cy="1750.6" r="7.4"/><circle cx="566.5" cy="1766.6" r="7.4"/><circle cx="528.8" cy="1770.1" r="7.4"/><circle cx="519.2" cy="1780.0" r="7.4"/><circle cx="607.7" cy="1780.4" r="7.4"/><circle cx="650.0" cy="1789.1" r="7.4"/><circle cx="654.4" cy="1807.0" r="7.4"/><circle cx="717.2" cy="1786.9" r="7.4"/><circle cx="534.0" cy="1796.5" r="7.4"/><circle cx="537.8" cy="1804.4" r="7.4"/><circle cx="504.7" cy="1808.4" r="7.4"/><circle cx="486.0" cy="1833.9" r="7.4"/><circle cx="522.9" cy="1836.3" r="7.4"/><circle cx="328.1" cy="1849.3" r="7.4"/><circle cx="351.4" cy="1841.0" r="7.4"/><circle cx="381.5" cy="1841.0" r="7.4"/><circle cx="386.0" cy="1834.0" r="7.4"/><circle cx="395.3" cy="1837.8" r="7.4"/><circle cx="412.0" cy="1862.4" r="7.4"/><circle cx="412.0" cy="1890.9" r="7.4"/><circle cx="453.3" cy="1842.6" r="7.4"/><circle cx="486.1" cy="1849.7" r="7.4"/><circle cx="522.9" cy="1847.4" r="7.4"/><circle cx="544.0" cy="1841.8" r="7.4"/><circle cx="522.6" cy="1869.5" r="7.4"/><circle cx="528.1" cy="1878.3" r="7.4"/><circle cx="527.3" cy="1902.0" r="7.4"/><circle cx="467.9" cy="1945.6" r="7.4"/><circle cx="489.8" cy="1948.3" r="7.4"/><circle cx="351.4" cy="1933.2" r="7.4"/><circle cx="303.9" cy="1981.6" r="7.4"/><circle cx="235.2" cy="1861.1" r="7.4"/><circle cx="863.1" cy="1408.8" r="7.4"/><circle cx="1047.2" cy="1423.3" r="7.4"/><circle cx="950.1" cy="1563.0" r="7.4"/><circle cx="755.9" cy="1577.0" r="7.4"/><circle cx="748.1" cy="1596.8" r="7.4"/><circle cx="1016.6" cy="1632.5" r="7.4"/><circle cx="904.8" cy="1650.7" r="7.4"/><circle cx="874.6" cy="1695.1" r="7.4"/><circle cx="902.6" cy="1759.4" r="7.4"/></g><line x1="299.3" y1="2074.5" x2="299.3" y2="2065.5" stroke="#4f4f4f" stroke-width="3"/><line x1="209.5" y1="1984.7" x2="218.5" y2="1984.7" stroke="#4f4f4f" stroke-width="3"/><line x1="389.1" y1="2074.5" x2="389.1" y2="2053.5" stroke="#4f4f4f" stroke-width="3"/><line x1="209.5" y1="1894.9" x2="230.5" y2="1894.9" stroke="#4f4f4f" stroke-width="3"/><line x1="478.9" y1="2074.5" x2="478.9" y2="2065.5" stroke="#4f4f4f" stroke-width="3"/><line x1="209.5" y1="1805.0" x2="218.5" y2="1805.0" stroke="#4f4f4f" stroke-width="3"/><line x1="568.7" y1="2074.5" x2="568.7" y2="2053.5" stroke="#4f4f4f" stroke-width="3"/><line x1="209.5" y1="1715.2" x2="230.5" y2="1715.2" stroke="#4f4f4f" stroke-width="3"/><line x1="658.5" y1="2074.5" x2="658.5" y2="2065.5" stroke="#4f4f4f" stroke-width="3"/><line x1="209.5" y1="1625.4" x2="218.5" y2="1625.4" stroke="#4f4f4f" stroke-width="3"/><line x1="748.3" y1="2074.5" x2="748.3" y2="2053.5" stroke="#4f4f4f" stroke-width="3"/><line x1="209.5" y1="1535.6" x2="230.5" y2="1535.6" stroke="#4f4f4f" stroke-width="3"/><line x1="838.1" y1="2074.5" x2="838.1" y2="2065.5" stroke="#4f4f4f" stroke-width="3"/><line x1="209.5" y1="1445.8" x2="218.5" y2="1445.8" stroke="#4f4f4f" stroke-width="3"/><line x1="927.9" y1="2074.5" x2="927.9" y2="2053.5" stroke="#4f4f4f" stroke-width="3"/><line x1="209.5" y1="1355.9" x2="230.5" y2="1355.9" stroke="#4f4f4f" stroke-width="3"/><line x1="1017.7" y1="2074.5" x2="1017.7" y2="2065.5" stroke="#4f4f4f" stroke-width="3"/><line x1="209.5" y1="1266.1" x2="218.5" y2="1266.1" stroke="#4f4f4f" stroke-width="3"/><line x1="208.0" y1="1176.3" x2="1109.0" y2="1176.3" stroke="#4f4f4f" stroke-width="3"/><line x1="1110.1" y1="1176.3" x2="1110.1" y2="2076.0" stroke="#d8d8d8" stroke-width="2.4"/><line x1="1107.2" y1="1176.3" x2="1107.2" y2="2076.0" stroke="#6e6e6e" stroke-width="3.2"/><line x1="209.5" y1="1176.3" x2="209.5" y2="2076.0" stroke="#4f4f4f" stroke-width="3"/><line x1="208.0" y1="2074.5" x2="1109.0" y2="2074.5" stroke="#4f4f4f" stroke-width="3"/><text x="209.5" y="2130.8" font-size="46" text-anchor="middle">0</text><text x="188.0" y="2088.0" font-size="46" text-anchor="end">0</text><text x="389.1" y="2130.8" font-size="46" text-anchor="middle">100</text><text x="188.0" y="1908.4" font-size="46" text-anchor="end">100</text><text x="568.7" y="2130.8" font-size="46" text-anchor="middle">200</text><text x="188.0" y="1728.7" font-size="46" text-anchor="end">200</text><text x="748.3" y="2130.8" font-size="46" text-anchor="middle">300</text><text x="188.0" y="1549.1" font-size="46" text-anchor="end">300</text><text x="927.9" y="2130.8" font-size="46" text-anchor="middle">400</text><text x="188.0" y="1369.4" font-size="46" text-anchor="end">400</text><text x="1107.5" y="2130.8" font-size="46" text-anchor="middle">500</text><text x="188.0" y="1189.8" font-size="46" text-anchor="end">500</text><text x="658.5" y="2197.8" font-size="54" text-anchor="middle">Mearsured IT-AGB (kg)</text><text transform="translate(89.5 1625.4) rotate(-90)" font-size="54" text-anchor="middle">Estimated IT-AGB (kg)</text><text x="282.0" y="1289.5" font-size="67" letter-spacing="2.2" fill="#000">(N)</text><rect x="681.5" y="1926.0" width="336" height="45" fill="#fff"/><rect x="681.5" y="1981.0" width="266" height="51" fill="#fff"/><text x="680.8" y="1965.5" font-size="46.5">RMSE=73.11 kg</text><text x="680.8" y="2022.2" font-size="46.5">rRMSE=0.41</text></g>
<g><line x1="1541.5" y1="1182.3" x2="1541.5" y2="2071.2" stroke="#d3d3d3" stroke-width="3" stroke-dasharray="9.5 7.2"/><line x1="1372.0" y1="1892.2" x2="2253.5" y2="1892.2" stroke="#d3d3d3" stroke-width="3" stroke-dasharray="9.5 7.2"/><line x1="1721.0" y1="1182.3" x2="1721.0" y2="2071.2" stroke="#d3d3d3" stroke-width="3" stroke-dasharray="9.5 7.2"/><line x1="1372.0" y1="1713.2" x2="2253.5" y2="1713.2" stroke="#d3d3d3" stroke-width="3" stroke-dasharray="9.5 7.2"/><line x1="1900.5" y1="1182.3" x2="1900.5" y2="2071.2" stroke="#d3d3d3" stroke-width="3" stroke-dasharray="9.5 7.2"/><line x1="1372.0" y1="1534.3" x2="2253.5" y2="1534.3" stroke="#d3d3d3" stroke-width="3" stroke-dasharray="9.5 7.2"/><line x1="2080.0" y1="1182.3" x2="2080.0" y2="2071.2" stroke="#d3d3d3" stroke-width="3" stroke-dasharray="9.5 7.2"/><line x1="1372.0" y1="1355.3" x2="2253.5" y2="1355.3" stroke="#d3d3d3" stroke-width="3" stroke-dasharray="9.5 7.2"/><line x1="1362.0" y1="2071.2" x2="2259.5" y2="1176.3" stroke="#ff2a2a" stroke-width="2.6"/><g fill="#fff" stroke="none"><circle cx="1571.5" cy="1606.0" r="7.4"/><circle cx="1614.3" cy="1674.0" r="7.4"/><circle cx="1569.9" cy="1707.1" r="7.4"/><circle cx="1532.7" cy="1716.9" r="7.4"/><circle cx="1527.1" cy="1730.4" r="7.4"/><circle cx="1546.1" cy="1733.5" r="7.4"/><circle cx="1572.8" cy="1742.3" r="7.4"/><circle cx="1545.7" cy="1756.0" r="7.4"/><circle cx="1527.9" cy="1776.3" r="7.4"/><circle cx="1575.5" cy="1767.6" r="7.4"/><circle cx="1607.0" cy="1771.4" r="7.4"/><circle cx="1574.7" cy="1786.6" r="7.4"/><circle cx="1539.5" cy="1803.3" r="7.4"/><circle cx="1571.0" cy="1802.2" r="7.4"/><circle cx="1519.5" cy="1820.0" r="7.4"/><circle cx="1503.1" cy="1831.6" r="7.4"/><circle cx="1638.1" cy="1768.6" r="7.4"/><circle cx="1628.0" cy="1779.5" r="7.4"/><circle cx="1620.8" cy="1789.8" r="7.4"/><circle cx="1637.0" cy="1797.5" r="7.4"/><circle cx="1603.0" cy="1809.5" r="7.4"/><circle cx="1616.5" cy="1813.7" r="7.4"/><circle cx="1643.4" cy="1815.3" r="7.4"/><circle cx="1573.7" cy="1825.3" r="7.4"/><circle cx="1587.2" cy="1825.3" r="7.4"/><circle cx="1604.2" cy="1831.9" r="7.4"/><circle cx="1625.6" cy="1832.9" r="7.4"/><circle cx="1610.8" cy="1837.5" r="7.4"/><circle cx="1580.8" cy="1847.7" r="7.4"/><circle cx="1564.6" cy="1854.9" r="7.4"/><circle cx="1619.6" cy="1860.5" r="7.4"/><circle cx="1805.6" cy="1574.3" r="7.4"/><circle cx="1800.1" cy="1577.4" r="7.4"/><circle cx="1899.0" cy="1572.6" r="7.4"/><circle cx="1865.1" cy="1614.7" r="7.4"/><circle cx="1818.3" cy="1623.4" r="7.4"/><circle cx="1821.5" cy="1633.7" r="7.4"/><circle cx="1836.5" cy="1658.3" r="7.4"/><circle cx="1757.0" cy="1673.3" r="7.4"/><circle cx="1782.2" cy="1690.0" r="7.4"/><circle cx="1758.9" cy="1711.3" r="7.4"/><circle cx="1797.2" cy="1726.4" r="7.4"/><circle cx="1791.1" cy="1742.3" r="7.4"/><circle cx="1833.4" cy="1777.9" r="7.4"/><circle cx="1771.6" cy="1791.4" r="7.4"/><circle cx="1782.7" cy="1827.8" r="7.4"/><circle cx="1907.0" cy="1755.0" r="7.4"/><circle cx="1902.8" cy="1792.8" r="7.4"/><circle cx="1680.4" cy="1648.7" r="7.4"/><circle cx="1686.0" cy="1644.8" r="7.4"/><circle cx="1707.7" cy="1668.2" r="7.4"/><circle cx="1674.1" cy="1685.2" r="7.4"/><circle cx="1670.9" cy="1694.7" r="7.4"/><circle cx="1668.6" cy="1706.6" r="7.4"/><circle cx="1644.0" cy="1721.6" r="7.4"/><circle cx="1655.9" cy="1725.6" r="7.4"/><circle cx="1636.1" cy="1731.2" r="7.4"/><circle cx="1649.5" cy="1734.3" r="7.4"/><circle cx="1640.8" cy="1743.8" r="7.4"/><circle cx="1652.7" cy="1747.0" r="7.4"/><circle cx="1678.1" cy="1742.3" r="7.4"/><circle cx="1681.2" cy="1745.4" r="7.4"/><circle cx="1690.0" cy="1747.8" r="7.4"/><circle cx="1717.4" cy="1750.2" r="7.4"/><circle cx="1695.0" cy="1766.0" r="7.4"/><circle cx="1655.1" cy="1790.6" r="7.4"/><circle cx="1674.3" cy="1801.4" r="7.4"/><circle cx="1695.5" cy="1857.5" r="7.4"/><circle cx="1563.2" cy="1870.8" r="7.4"/><circle cx="1455.0" cy="1868.8" r="7.4"/><circle cx="1673.7" cy="1885.9" r="7.4"/><circle cx="1479.2" cy="1924.4" r="7.4"/><circle cx="1502.7" cy="1928.7" r="7.4"/><circle cx="1515.6" cy="1953.8" r="7.4"/><circle cx="1563.2" cy="1920.0" r="7.4"/><circle cx="1563.2" cy="1929.5" r="7.4"/><circle cx="1579.9" cy="1942.1" r="7.4"/><circle cx="1674.5" cy="1956.4" r="7.4"/><circle cx="1679.2" cy="1989.7" r="7.4"/><circle cx="2054.1" cy="1429.9" r="7.4"/><circle cx="2167.7" cy="1463.9" r="7.4"/><circle cx="1868.9" cy="1482.1" r="7.4"/><circle cx="2013.7" cy="1508.7" r="7.4"/><circle cx="2100.7" cy="1504.3" r="7.4"/><circle cx="2197.7" cy="1522.0" r="7.4"/><circle cx="2025.7" cy="1562.4" r="7.4"/><circle cx="2055.9" cy="1711.3" r="7.4"/><circle cx="1385.8" cy="1941.3" r="7.4"/><circle cx="1392.1" cy="1950.3" r="7.4"/></g><g fill="none" stroke="#1616ff" stroke-width="3.7"><circle cx="1571.5" cy="1606.0" r="7.4"/><circle cx="1614.3" cy="1674.0" r="7.4"/><circle cx="1569.9" cy="1707.1" r="7.4"/><circle cx="1532.7" cy="1716.9" r="7.4"/><circle cx="1527.1" cy="1730.4" r="7.4"/><circle cx="1546.1" cy="1733.5" r="7.4"/><circle cx="1572.8" cy="1742.3" r="7.4"/><circle cx="1545.7" cy="1756.0" r="7.4"/><circle cx="1527.9" cy="1776.3" r="7.4"/><circle cx="1575.5" cy="1767.6" r="7.4"/><circle cx="1607.0" cy="1771.4" r="7.4"/><circle cx="1574.7" cy="1786.6" r="7.4"/><circle cx="1539.5" cy="1803.3" r="7.4"/><circle cx="1571.0" cy="1802.2" r="7.4"/><circle cx="1519.5" cy="1820.0" r="7.4"/><circle cx="1503.1" cy="1831.6" r="7.4"/><circle cx="1638.1" cy="1768.6" r="7.4"/><circle cx="1628.0" cy="1779.5" r="7.4"/><circle cx="1620.8" cy="1789.8" r="7.4"/><circle cx="1637.0" cy="1797.5" r="7.4"/><circle cx="1603.0" cy="1809.5" r="7.4"/><circle cx="1616.5" cy="1813.7" r="7.4"/><circle cx="1643.4" cy="1815.3" r="7.4"/><circle cx="1573.7" cy="1825.3" r="7.4"/><circle cx="1587.2" cy="1825.3" r="7.4"/><circle cx="1604.2" cy="1831.9" r="7.4"/><circle cx="1625.6" cy="1832.9" r="7.4"/><circle cx="1610.8" cy="1837.5" r="7.4"/><circle cx="1580.8" cy="1847.7" r="7.4"/><circle cx="1564.6" cy="1854.9" r="7.4"/><circle cx="1619.6" cy="1860.5" r="7.4"/><circle cx="1805.6" cy="1574.3" r="7.4"/><circle cx="1800.1" cy="1577.4" r="7.4"/><circle cx="1899.0" cy="1572.6" r="7.4"/><circle cx="1865.1" cy="1614.7" r="7.4"/><circle cx="1818.3" cy="1623.4" r="7.4"/><circle cx="1821.5" cy="1633.7" r="7.4"/><circle cx="1836.5" cy="1658.3" r="7.4"/><circle cx="1757.0" cy="1673.3" r="7.4"/><circle cx="1782.2" cy="1690.0" r="7.4"/><circle cx="1758.9" cy="1711.3" r="7.4"/><circle cx="1797.2" cy="1726.4" r="7.4"/><circle cx="1791.1" cy="1742.3" r="7.4"/><circle cx="1833.4" cy="1777.9" r="7.4"/><circle cx="1771.6" cy="1791.4" r="7.4"/><circle cx="1782.7" cy="1827.8" r="7.4"/><circle cx="1907.0" cy="1755.0" r="7.4"/><circle cx="1902.8" cy="1792.8" r="7.4"/><circle cx="1680.4" cy="1648.7" r="7.4"/><circle cx="1686.0" cy="1644.8" r="7.4"/><circle cx="1707.7" cy="1668.2" r="7.4"/><circle cx="1674.1" cy="1685.2" r="7.4"/><circle cx="1670.9" cy="1694.7" r="7.4"/><circle cx="1668.6" cy="1706.6" r="7.4"/><circle cx="1644.0" cy="1721.6" r="7.4"/><circle cx="1655.9" cy="1725.6" r="7.4"/><circle cx="1636.1" cy="1731.2" r="7.4"/><circle cx="1649.5" cy="1734.3" r="7.4"/><circle cx="1640.8" cy="1743.8" r="7.4"/><circle cx="1652.7" cy="1747.0" r="7.4"/><circle cx="1678.1" cy="1742.3" r="7.4"/><circle cx="1681.2" cy="1745.4" r="7.4"/><circle cx="1690.0" cy="1747.8" r="7.4"/><circle cx="1717.4" cy="1750.2" r="7.4"/><circle cx="1695.0" cy="1766.0" r="7.4"/><circle cx="1655.1" cy="1790.6" r="7.4"/><circle cx="1674.3" cy="1801.4" r="7.4"/><circle cx="1695.5" cy="1857.5" r="7.4"/><circle cx="1563.2" cy="1870.8" r="7.4"/><circle cx="1455.0" cy="1868.8" r="7.4"/><circle cx="1673.7" cy="1885.9" r="7.4"/><circle cx="1479.2" cy="1924.4" r="7.4"/><circle cx="1502.7" cy="1928.7" r="7.4"/><circle cx="1515.6" cy="1953.8" r="7.4"/><circle cx="1563.2" cy="1920.0" r="7.4"/><circle cx="1563.2" cy="1929.5" r="7.4"/><circle cx="1579.9" cy="1942.1" r="7.4"/><circle cx="1674.5" cy="1956.4" r="7.4"/><circle cx="1679.2" cy="1989.7" r="7.4"/><circle cx="2054.1" cy="1429.9" r="7.4"/><circle cx="2167.7" cy="1463.9" r="7.4"/><circle cx="1868.9" cy="1482.1" r="7.4"/><circle cx="2013.7" cy="1508.7" r="7.4"/><circle cx="2100.7" cy="1504.3" r="7.4"/><circle cx="2197.7" cy="1522.0" r="7.4"/><circle cx="2025.7" cy="1562.4" r="7.4"/><circle cx="2055.9" cy="1711.3" r="7.4"/><circle cx="1385.8" cy="1941.3" r="7.4"/><circle cx="1392.1" cy="1950.3" r="7.4"/></g><line x1="1451.8" y1="2071.2" x2="1451.8" y2="2062.2" stroke="#4f4f4f" stroke-width="3"/><line x1="1362.0" y1="1981.7" x2="1371.0" y2="1981.7" stroke="#4f4f4f" stroke-width="3"/><line x1="1541.5" y1="2071.2" x2="1541.5" y2="2050.2" stroke="#4f4f4f" stroke-width="3"/><line x1="1362.0" y1="1892.2" x2="1383.0" y2="1892.2" stroke="#4f4f4f" stroke-width="3"/><line x1="1631.2" y1="2071.2" x2="1631.2" y2="2062.2" stroke="#4f4f4f" stroke-width="3"/><line x1="1362.0" y1="1802.7" x2="1371.0" y2="1802.7" stroke="#4f4f4f" stroke-width="3"/><line x1="1721.0" y1="2071.2" x2="1721.0" y2="2050.2" stroke="#4f4f4f" stroke-width="3"/><line x1="1362.0" y1="1713.2" x2="1383.0" y2="1713.2" stroke="#4f4f4f" stroke-width="3"/><line x1="1810.8" y1="2071.2" x2="1810.8" y2="2062.2" stroke="#4f4f4f" stroke-width="3"/><line x1="1362.0" y1="1623.8" x2="1371.0" y2="1623.8" stroke="#4f4f4f" stroke-width="3"/><line x1="1900.5" y1="2071.2" x2="1900.5" y2="2050.2" stroke="#4f4f4f" stroke-width="3"/><line x1="1362.0" y1="1534.3" x2="1383.0" y2="1534.3" stroke="#4f4f4f" stroke-width="3"/><line x1="1990.2" y1="2071.2" x2="1990.2" y2="2062.2" stroke="#4f4f4f" stroke-width="3"/><line x1="1362.0" y1="1444.8" x2="1371.0" y2="1444.8" stroke="#4f4f4f" stroke-width="3"/><line x1="2080.0" y1="2071.2" x2="2080.0" y2="2050.2" stroke="#4f4f4f" stroke-width="3"/><line x1="1362.0" y1="1355.3" x2="1383.0" y2="1355.3" stroke="#4f4f4f" stroke-width="3"/><line x1="2169.8" y1="2071.2" x2="2169.8" y2="2062.2" stroke="#4f4f4f" stroke-width="3"/><line x1="1362.0" y1="1265.8" x2="1371.0" y2="1265.8" stroke="#4f4f4f" stroke-width="3"/><path d="M1529.4 2070.5 A7.4 7.4 0 0 1 1544.2 2070.5" fill="#fff" stroke="#1616ff" stroke-width="3.7"/><line x1="1360.5" y1="1176.3" x2="2261.0" y2="1176.3" stroke="#4f4f4f" stroke-width="3"/><line x1="2259.5" y1="1176.3" x2="2259.5" y2="2072.7" stroke="#4f4f4f" stroke-width="3"/><line x1="1359.2" y1="1176.3" x2="1359.2" y2="2072.7" stroke="#d4d4d4" stroke-width="2.6"/><line x1="1362.0" y1="1176.3" x2="1362.0" y2="2072.7" stroke="#787878" stroke-width="3.2"/><line x1="1360.5" y1="2071.2" x2="2261.0" y2="2071.2" stroke="#4f4f4f" stroke-width="3"/><line x1="1362.0" y1="2074.8" x2="2259.5" y2="2074.8" stroke="#ececec" stroke-width="2.4"/><text x="1362.0" y="2130.8" font-size="46" text-anchor="middle">0</text><text x="1340.5" y="2084.7" font-size="46" text-anchor="end">0</text><text x="1541.5" y="2130.8" font-size="46" text-anchor="middle">100</text><text x="1340.5" y="1905.7" font-size="46" text-anchor="end">100</text><text x="1721.0" y="2130.8" font-size="46" text-anchor="middle">200</text><text x="1340.5" y="1726.7" font-size="46" text-anchor="end">200</text><text x="1900.5" y="2130.8" font-size="46" text-anchor="middle">300</text><text x="1340.5" y="1547.8" font-size="46" text-anchor="end">300</text><text x="2080.0" y="2130.8" font-size="46" text-anchor="middle">400</text><text x="1340.5" y="1368.8" font-size="46" text-anchor="end">400</text><text x="2259.5" y="2130.8" font-size="46" text-anchor="middle">500</text><text x="1340.5" y="1189.8" font-size="46" text-anchor="end">500</text><text x="1810.8" y="2197.8" font-size="54" text-anchor="middle">Mearsured IT-AGB (kg)</text><text transform="translate(1242.0 1623.8) rotate(-90)" font-size="54" text-anchor="middle">Estimated IT-AGB (kg)</text><text x="1412.5" y="1289.5" font-size="67" letter-spacing="3" fill="#000">(S)</text><rect x="1834.0" y="1922.7" width="336" height="45" fill="#fff"/><rect x="1834.0" y="1977.7" width="266" height="51" fill="#fff"/><text x="1833.3" y="1962.2" font-size="46.5">RMSE=61.72 kg</text><text x="1833.3" y="2018.9" font-size="46.5">rRMSE=0.35</text></g>
</svg></body></html>
